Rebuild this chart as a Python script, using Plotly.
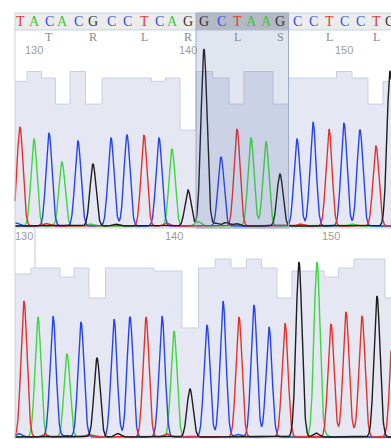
import numpy as np
import plotly.graph_objects as go

# ---------------- data ----------------
# top read (reference)
top_bases = list("TACACGCCTCAGGCTAAGCCTCCTG")
top_pos = [20, 34, 49, 62, 78, 93, 111, 127, 144, 159, 172, 188, 204,
           221, 237, 251, 266, 280, 297, 313, 329, 344, 360, 376, 390]
top_height = [990, 870, 930, 640, 850, 620, 880, 910, 910, 880, 770, 360, 1770,
              690, 970, 880, 840, 520, 870, 1040, 970, 1030, 960, 800, 1550]
top_qual = [45, 48, 46, 38, 48, 38, 46, 46, 46, 45, 46, 30, 48,
            46, 38, 48, 48, 38, 46, 46, 46, 48, 46, 38, 45]
top_first_number = 129
top_aa = ["T", "R", "L", "R", "L", "S", "L", "L"]
top_frame = 1
top_selection = (12, 17)
top_minor_base = ["C", "T", "A", "G", "T", "A", "G", "G", "G", "T", "A"]
top_minor_pos = [16, 46, 90, 115, 167, 198, 216, 226, 236, 300, 352]
top_minor_height = [30, 25, 20, 20, 30, 45, 30, 35, 25, 20, 20]

# bottom read (sample)
bottom_bases = list("TACACGCCTCAGCCTCCTGATTTGT")
bottom_pos = [24, 38, 53, 67, 81, 97, 114, 130, 146, 162, 174, 190, 207,
              223, 239, 254, 269, 285, 299, 317, 331, 346, 362, 377, 393]
bottom_height = [1360, 1200, 1210, 830, 1150, 790, 1180, 1200, 1200, 1210, 1060, 480, 1120,
                 1360, 1200, 1320, 1100, 1140, 1750, 1750, 1130, 1250, 1210, 1410, 1080]
bottom_qual = [55, 57, 57, 54, 57, 47, 57, 57, 57, 56, 56, 37, 57,
               60, 57, 60, 57, 47, 56, 56, 54, 57, 60, 60, 47]
bottom_first_number = 130
bottom_cursor = 35
bottom_minor_base = ["C", "T", "C", "T", "A", "G", "T", "C", "G", "T", "A"]
bottom_minor_pos = [19, 45, 66, 88, 92, 118, 167, 238, 316, 353, 325]
bottom_minor_height = [35, 25, 20, 25, 20, 35, 30, 25, 40, 25, 20]

# ---------------- style ----------------
W, H = 391, 439
X_LEFT = 15
SIGMA = 3.0
COL = {"A": "#3cd83c", "C": "#2742f2", "G": "#1e1e1e", "T": "#e8302a"}
HCOL = {"A": "#38c838", "C": "#2f4ff0", "G": "#333333", "T": "#e23a33"}
QFILL = "#e5e8f3"
QLINE = "#c7cfe2"
BORDER = "#c4d3e4"
SERIF = "Liberation Serif, DejaVu Serif, serif"


def fy(px):
    return 1 - px / H


def edges(pos):
    return [X_LEFT] + [(a + b) / 2 for a, b in zip(pos[:-1], pos[1:])] + [W]


grid = np.arange(X_LEFT, W + 0.25, 0.25)


def peak_traces(bases, pos, height, mb, mp, mh, xa, ya):
    out = []
    for b in ["A", "C", "T", "G"]:
        y = np.zeros_like(grid)
        for bb, p, h in list(zip(bases, pos, height)) + list(zip(mb, mp, mh)):
            if bb == b:
                y += h * np.exp(-((grid - p) ** 2) / (2 * SIGMA ** 2))
        out.append(go.Scatter(x=grid, y=y, mode="lines", xaxis=xa, yaxis=ya,
                              line=dict(color=COL[b], width=1.4), hoverinfo="skip"))
    return out


def qual_trace(pos, qual, xa, ya):
    e = edges(pos)
    return go.Scatter(x=e, y=list(qual) + [qual[-1]], mode="lines", line_shape="hv",
                      fill="tozeroy", fillcolor=QFILL, line=dict(color=QLINE, width=1),
                      xaxis=xa, yaxis=ya, hoverinfo="skip")


fig = go.Figure()
fig.add_trace(qual_trace(top_pos, top_qual, "x", "y"))
for t in peak_traces(top_bases, top_pos, top_height, top_minor_base, top_minor_pos,
                     top_minor_height, "x", "y2"):
    fig.add_trace(t)
fig.add_trace(qual_trace(bottom_pos, bottom_qual, "x2", "y3"))
for t in peak_traces(bottom_bases, bottom_pos, bottom_height, bottom_minor_base,
                     bottom_minor_pos, bottom_minor_height, "x2", "y4"):
    fig.add_trace(t)

ax_common = dict(visible=False, fixedrange=True, showgrid=False, zeroline=False)
fig.update_layout(
    width=W, height=H, margin=dict(l=0, r=0, t=0, b=0),
    paper_bgcolor="white", plot_bgcolor="white", showlegend=False,
    xaxis=dict(domain=[0, 1], range=[0, W], anchor="y", **ax_common),
    yaxis=dict(domain=[fy(228), fy(13)], range=[0, 215 / 3.26], anchor="x", **ax_common),
    yaxis2=dict(overlaying="y", range=[-20, 2130], anchor="x", **ax_common),
    xaxis2=dict(domain=[0, 1], range=[0, W], anchor="y3", **ax_common),
    yaxis3=dict(domain=[0, fy(228)], range=[0, 211 / 3.0], anchor="x2", **ax_common),
    yaxis4=dict(overlaying="y3", range=[-20, 2090], anchor="x2", **ax_common),
)

te = edges(top_pos)
sel_l, sel_r = te[top_selection[0]], te[top_selection[1] + 1]

shapes = [
    dict(type="rect", xref="x", yref="paper", x0=X_LEFT, x1=W, y0=fy(30), y1=fy(13),
         fillcolor="#ececec", line=dict(width=0), layer="below"),
    dict(type="rect", xref="x", yref="paper", x0=sel_l, x1=sel_r, y0=fy(30), y1=fy(13),
         fillcolor="#c9cacd", line=dict(width=0), layer="below"),
    dict(type="line", xref="x2", yref="paper", x0=bottom_cursor, x1=bottom_cursor,
         y0=0, y1=fy(228), line=dict(color="#c2c6ce", width=1), layer="below"),
    dict(type="line", xref="x", yref="paper", x0=X_LEFT, x1=W, y0=fy(13), y1=fy(13),
         line=dict(color=BORDER, width=1)),
    dict(type="line", xref="x", yref="paper", x0=X_LEFT, x1=W, y0=fy(30), y1=fy(30),
         line=dict(color=BORDER, width=1)),
    dict(type="line", xref="x", yref="paper", x0=X_LEFT, x1=W, y0=fy(228), y1=fy(228),
         line=dict(color=BORDER, width=1)),
    dict(type="line", xref="x", yref="paper", x0=X_LEFT, x1=X_LEFT, y0=0, y1=fy(13),
         line=dict(color=BORDER, width=1)),
    dict(type="rect", xref="x", yref="paper", x0=sel_l, x1=sel_r, y0=fy(228), y1=fy(13),
         fillcolor="rgba(80,100,160,0.17)", line=dict(color="#9eabc9", width=1),
         layer="above"),
]

ann = []
for b, p in zip(top_bases, top_pos):
    ann.append(dict(x=p, y=fy(21.5), xref="x", yref="paper", text=b,
                    showarrow=False, xanchor="center", yanchor="middle",
                    font=dict(family=SERIF, size=14, color=HCOL[b])))
for k, aa in enumerate(top_aa):
    mid = top_frame + 3 * k + 1
    ann.append(dict(x=top_pos[mid], y=fy(37), xref="x", yref="paper", text=aa,
                    showarrow=False, xanchor="center", yanchor="middle",
                    font=dict(family=SERIF, size=12, color="#8a8a8a")))
for i, p in enumerate(top_pos):
    n = top_first_number + i
    if n % 10 == 0:
        ann.append(dict(x=p, y=fy(50), xref="x", yref="paper", text=str(n), showarrow=False,
                        xanchor="center", yanchor="middle",
                        font=dict(family="Liberation Sans, Arial, sans-serif", size=11,
                                  color="#9c9c9c")))
for i, p in enumerate(bottom_pos):
    n = bottom_first_number + i
    if n % 10 == 0:
        ann.append(dict(x=p, y=fy(236), xref="x2", yref="paper", text=str(n),
                        showarrow=False, xanchor="center", yanchor="middle",
                        font=dict(family="Liberation Sans, Arial, sans-serif", size=11,
                                  color="#9c9c9c")))

fig.update_layout(shapes=shapes, annotations=ann)
fig.write_html("out.html", config={"displayModeBar": False},
               post_script="document.body.style.margin='0';")
